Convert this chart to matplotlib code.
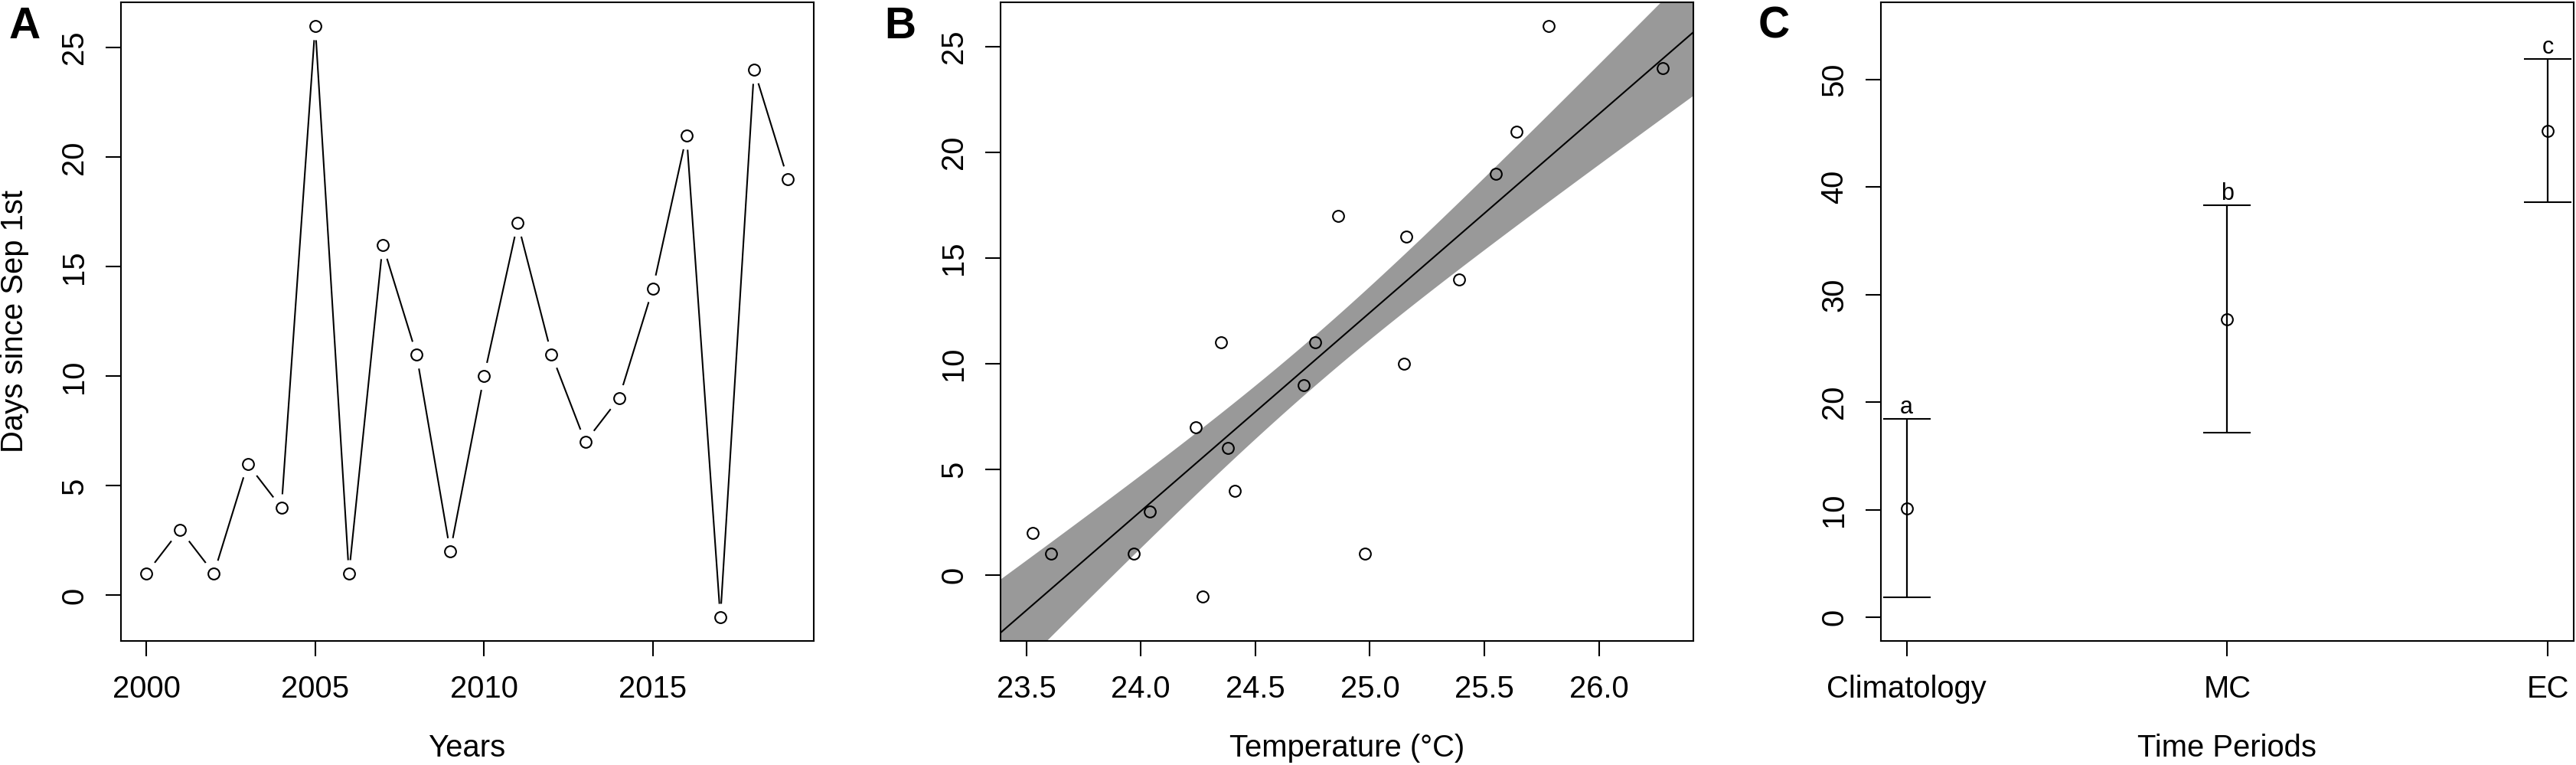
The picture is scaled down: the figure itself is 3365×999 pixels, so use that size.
import numpy as np
import matplotlib
matplotlib.use('Agg')
import matplotlib.pyplot as plt

# panel A: onset day per year
years = np.arange(2000, 2020)
days = np.array([1, 3, 1, 6, 4, 26, 1, 16, 11, 2, 10, 17, 11, 7, 9, 14, 21, -1, 24, 19])

# panel B: temperature of each year vs the same days
temp = np.array([23.53, 23.61, 23.97, 24.04, 24.24, 24.27, 24.35, 24.38, 24.41, 24.71,
                 24.76, 24.86, 24.98, 25.15, 25.16, 25.39, 25.55, 25.64, 25.78, 26.28])
temp_days = np.array([2, 1, 1, 3, 7, -1, 11, 6, 4, 9, 11, 17, 1, 10, 16, 14, 19, 21, 26, 24])
fit_slope = 9.4
band_scale = 5.33

# panel C: mean and interval per period
periods = ['Climatology', 'MC', 'EC']
period_mean = np.array([10.14, 27.72, 45.24])
period_lo = np.array([1.86, 17.16, 38.59])
period_hi = np.array([18.48, 38.32, 51.93])
period_group = ['a', 'b', 'c']

W, H = 3366, 999
FS = 28.8
LW = 1.5
MS = 10.6

plt.rcParams['font.family'] = ['Liberation Sans', 'DejaVu Sans']
plt.rcParams['font.size'] = FS
plt.rcParams['axes.linewidth'] = LW


def r_lim(lo, hi):
    # R style 4% padding
    d = (hi - lo) * 0.04
    return lo - d, hi + d


def make_axes(fig, left_px):
    ax = fig.add_axes([left_px / W, (H - 837) / H, 905 / W, (837 - 2.7) / H])
    ax.tick_params(direction='out', length=14.4, width=LW, labelsize=FS)
    ax.tick_params(axis='x', pad=17)
    ax.tick_params(axis='y', pad=15.5, labelrotation=90)
    return ax


def finish_axes(ax, xlabel, ylabel=None):
    plt.setp(ax.get_yticklabels(), va='center')
    ax.set_xlabel(xlabel, fontsize=FS, va='top')
    ax.xaxis.set_label_coords(0.5, (837 - 958) / 834.3)
    if ylabel:
        ax.set_ylabel(ylabel, fontsize=FS)
        ax.yaxis.set_label_coords((38.4 - 157.7) / 905, 0.5)


fig = plt.figure(figsize=(W / 100, H / 100), dpi=100)

# ---- A ----
axA = make_axes(fig, 157.7)
axA.plot(years, days, color='black', lw=LW, zorder=1)
# white discs give the gaps of R's type="b"
axA.plot(years, days, 'o', color='white', ms=26, mew=0, zorder=2)
axA.plot(years, days, 'o', mfc='none', mec='black', ms=MS, mew=LW, zorder=3)
axA.set_xlim(r_lim(years.min(), years.max()))
axA.set_ylim(r_lim(days.min(), days.max()))
axA.set_xticks([2000, 2005, 2010, 2015])
axA.set_yticks(np.arange(0, 26, 5))
finish_axes(axA, 'Years', 'Days since Sep 1st')

# ---- B ----
axB = make_axes(fig, 1307)
xlimB = r_lim(23.5, 26.3)
grid = np.linspace(xlimB[0], xlimB[1], 200)
xm, ym = temp.mean(), temp_days.mean()
fit = ym + fit_slope * (grid - xm)
half = band_scale * np.sqrt(1 / temp.size + (grid - xm) ** 2 / ((temp - xm) ** 2).sum())
axB.fill_between(grid, fit - half, fit + half, color='#999999', lw=0, zorder=1)
axB.plot(grid, fit, color='black', lw=LW, zorder=2)
axB.plot(temp, temp_days, 'o', mfc='none', mec='black', ms=MS, mew=LW, zorder=3)
axB.set_xlim(xlimB)
axB.set_ylim(r_lim(-2, 26))
xt = np.arange(23.5, 26.01, 0.5)
axB.set_xticks(xt)
axB.set_xticklabels(['%.1f' % v for v in xt])
axB.set_yticks(np.arange(0, 26, 5))
finish_axes(axB, 'Temperature (°C)')

# ---- C ----
axC = make_axes(fig, 2457)
xc = np.arange(1, len(periods) + 1)
axC.errorbar(xc, period_mean, yerr=[period_mean - period_lo, period_hi - period_mean],
             fmt='o', mfc='none', mec='black', ms=MS, mew=LW, ecolor='black',
             elinewidth=1.6, capsize=22.3, capthick=1.6)
for xi, top, g in zip(xc, period_hi, period_group):
    axC.annotate(g, (xi, top), xytext=(0, 5), textcoords='offset points',
                 ha='center', va='baseline', fontsize=22)
axC.set_xlim(r_lim(1, 3))
axC.set_ylim(r_lim(0, 55))
axC.set_xticks(xc)
axC.set_xticklabels(periods)
axC.set_yticks(np.arange(0, 51, 10))
finish_axes(axC, 'Time Periods')

# panel letters
for x_px, letter in zip([12, 1155, 2297], ['A', 'B', 'C']):
    fig.text(x_px / W, 1 - 50 / H, letter, fontsize=41, fontweight='bold',
             ha='left', va='baseline')

fig.savefig('out.png', dpi=100)
